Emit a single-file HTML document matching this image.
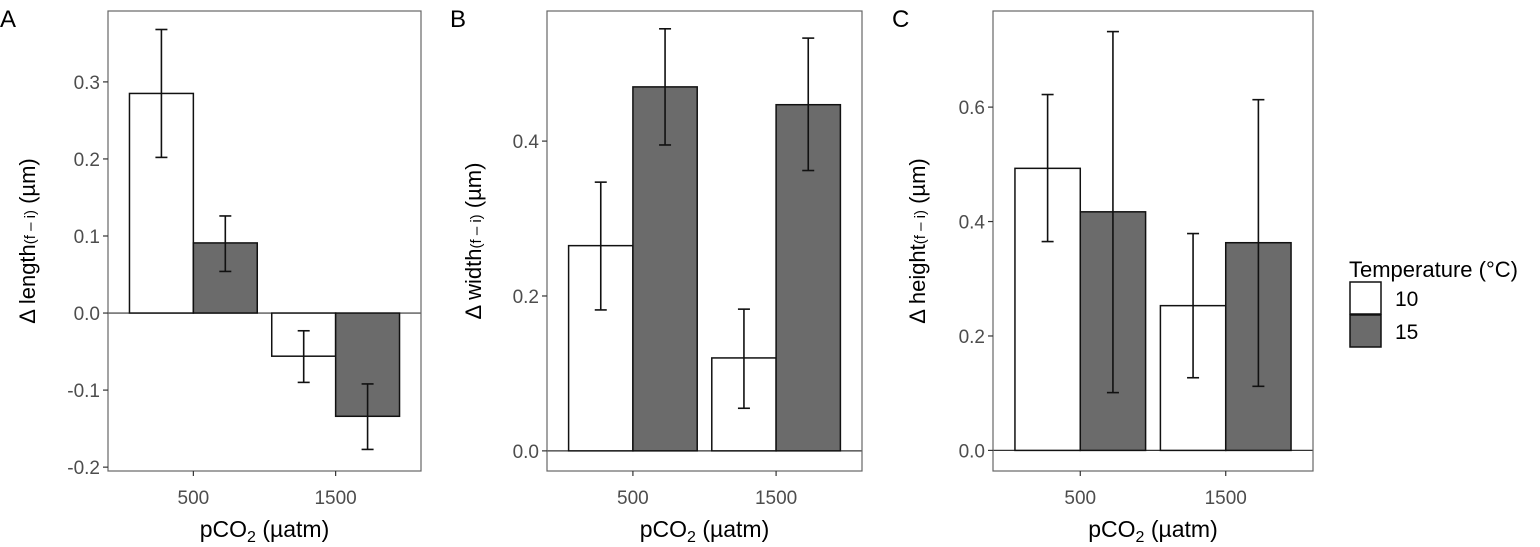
<!DOCTYPE html>
<html><head><meta charset="utf-8"><style>
body{margin:0;background:#fff}
svg{display:block;font-family:"Liberation Sans","DejaVu Sans",sans-serif}
</style></head><body>
<svg id="fig" width="1540" height="547" viewBox="0 0 1540 547"></svg>
<script>
const categories = ["500", "1500"];
const groups = ["10", "15"];
const lengthVals = [[0.285, 0.091], [-0.056, -0.134]];
const lengthLo = [[0.202, 0.054], [-0.090, -0.177]];
const lengthHi = [[0.368, 0.126], [-0.023, -0.092]];
const widthVals = [[0.265, 0.470], [0.120, 0.447]];
const widthLo = [[0.182, 0.395], [0.055, 0.362]];
const widthHi = [[0.347, 0.545], [0.183, 0.533]];
const heightVals = [[0.493, 0.417], [0.253, 0.363]];
const heightLo = [[0.365, 0.101], [0.127, 0.112]];
const heightHi = [[0.622, 0.732], [0.379, 0.613]];
const lengthTicks = [-0.2, -0.1, 0.0, 0.1, 0.2, 0.3];
const lengthTickLabels = ["-0.2", "-0.1", "0.0", "0.1", "0.2", "0.3"];
const widthTicks = [0.0, 0.2, 0.4];
const widthTickLabels = ["0.0", "0.2", "0.4"];
const heightTicks = [0.0, 0.2, 0.4, 0.6];
const heightTickLabels = ["0.0", "0.2", "0.4", "0.6"];

const NS = "http://www.w3.org/2000/svg";
const svg = document.getElementById("fig");
function mk(tag, attrs, parent, text){
  const e = document.createElementNS(NS, tag);
  for (const k in attrs) e.setAttribute(k, attrs[k]);
  if (text !== undefined) e.textContent = text;
  (parent || svg).appendChild(e);
  return e;
}
const fills = ["#ffffff", "#6b6b6b"];

function panel(opt){
  const g = mk("g", {});
  
  
  const L = opt.left, R = opt.right, T = 11, B = 471;
  const yS = v => B - (v - opt.ymin) / (opt.ymax - opt.ymin) * (B - T);
  const xS = c => L + (c - 0.4) / 2.2 * (R - L);
  const bw = 0.45 * (R - L) / 2.2 * 2 * 0.5 * 0.998;
  const lt = mk("text", {x: opt.letterX, y: 27, "font-size": 24, fill: "#000"}, g, opt.letter);
  
  
  const z = mk("line", {x1: L, x2: R, y1: yS(0), y2: yS(0), stroke: "#333", "stroke-width": 1.2}, g);
  
  
  for (let i = 0; i < categories.length; i++){
    const cx = xS(i + 1);
    for (let j = 0; j < groups.length; j++){
      const v = opt.vals[i][j];
      const x0 = j === 0 ? cx - bw : cx;
      const y0 = Math.min(yS(v), yS(0)), h = Math.abs(yS(v) - yS(0));
      const r = mk("rect", {x: x0, y: y0, width: bw, height: h, fill: fills[j], stroke: "#111", "stroke-width": 1.5}, g);
      
      
      const ex = x0 + bw / 2;
      const eg = mk("g", {stroke: "#111", "stroke-width": 1.6}, g);
      
      
      mk("line", {x1: ex, x2: ex, y1: yS(opt.lo[i][j]), y2: yS(opt.hi[i][j])}, eg);
      mk("line", {x1: ex - 6, x2: ex + 6, y1: yS(opt.lo[i][j]), y2: yS(opt.lo[i][j])}, eg);
      mk("line", {x1: ex - 6, x2: ex + 6, y1: yS(opt.hi[i][j]), y2: yS(opt.hi[i][j])}, eg);
    }
  }
  const fr = mk("rect", {x: L, y: T, width: R - L, height: B - T, fill: "none", stroke: "#666", "stroke-width": 1.2}, g);
  
  
  opt.ticks.forEach((t, k) => {
    const y = yS(t);
    mk("line", {x1: L - 5, x2: L, y1: y, y2: y, stroke: "#333", "stroke-width": 1.2}, g);
    const tl = mk("text", {x: L - 8, y: y + 7, "font-size": 19, fill: "#4d4d4d", "text-anchor": "end"}, g, opt.tickLabels[k]);
    
    
  });
  categories.forEach((c, i) => {
    const x = xS(i + 1);
    mk("line", {x1: x, x2: x, y1: B, y2: B + 5, stroke: "#333", "stroke-width": 1.2}, g);
    const tl = mk("text", {x: x, y: B + 33, "font-size": 19, fill: "#4d4d4d", "text-anchor": "middle"}, g, c);
    
    
  });
  const xt = mk("text", {x: (L + R) / 2, y: 537, "font-size": 23, fill: "#000", "text-anchor": "middle"}, g);
  
  
  xt.innerHTML = 'pCO<tspan font-size="16" dy="5">2</tspan><tspan dy="-5"> (µatm)</tspan>';
  const yt = mk("text", {x: 0, y: 0, "font-size": 22, fill: "#000", "text-anchor": "middle", transform: "translate(" + opt.ytX + "," + (T + B) / 2 + ") rotate(-90)"}, g);
  
  
  yt.innerHTML = 'Δ ' + opt.ylab + '<tspan font-size="15">(f – i)</tspan> (µm)';
}

panel({name: "panel-a-length", letter: "A", letterX: 0, left: 108, right: 421, ymin: -0.205, ymax: 0.392,
  vals: lengthVals, lo: lengthLo, hi: lengthHi, ticks: lengthTicks, tickLabels: lengthTickLabels, ytX: 35, ylab: "length"});
panel({name: "panel-b-width", letter: "B", letterX: 450, left: 547, right: 862, ymin: -0.026, ymax: 0.568,
  vals: widthVals, lo: widthLo, hi: widthHi, ticks: widthTicks, tickLabels: widthTickLabels, ytX: 481, ylab: "width"});
panel({name: "panel-c-height", letter: "C", letterX: 892, left: 993, right: 1313, ymin: -0.036, ymax: 0.768,
  vals: heightVals, lo: heightLo, hi: heightHi, ticks: heightTicks, tickLabels: heightTickLabels, ytX: 925, ylab: "height"});

const lg = mk("g", {});


const lt = mk("text", {x: 1349, y: 277, "font-size": 22, fill: "#000"}, lg, "Temperature (°C)");


groups.forEach((gname, j) => {
  const y = 282 + j * 33;
  const r = mk("rect", {x: 1350, y: y, width: 31, height: 32, fill: fills[j], stroke: "#111", "stroke-width": 1.5}, lg);
  
  
  const t = mk("text", {x: 1395, y: y + 24, "font-size": 21, fill: "#000"}, lg, gname);
  
  
});
</script>
</body></html>
